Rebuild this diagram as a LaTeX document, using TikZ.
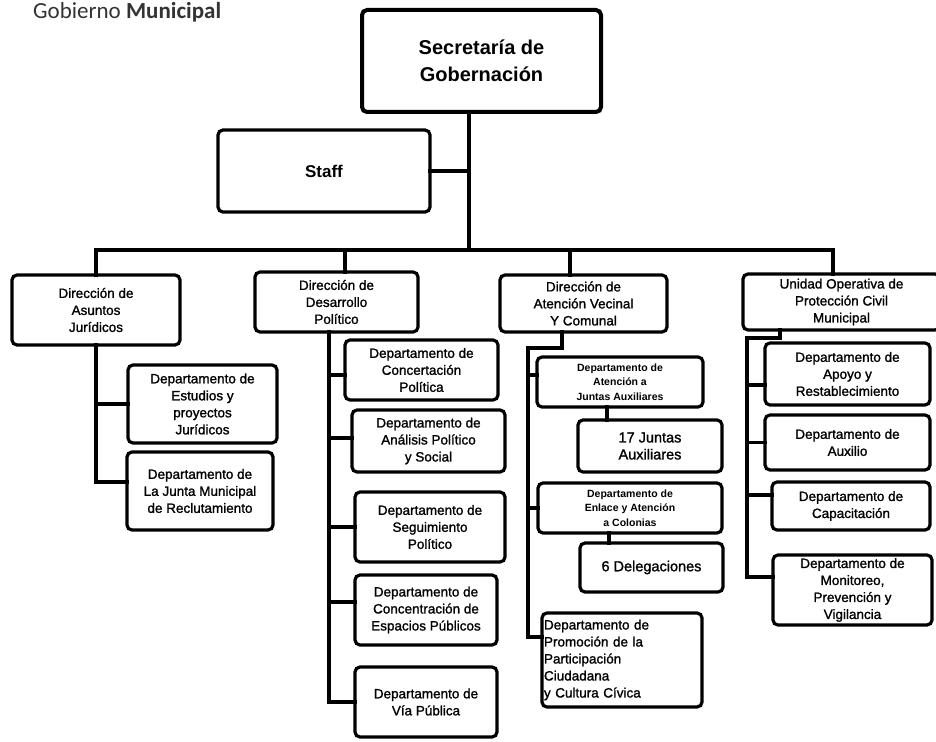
\documentclass[tikz,border=0pt]{standalone}
\usepackage{fontspec}
\setmainfont{Liberation Sans}
\newfontfamily\heavy[FakeBold=1.3]{Liberation Sans}
\newfontfamily\calib{Carlito}
\begin{document}
\begin{tikzpicture}[x=1pt,y=-1pt,
  box/.style={draw=black, line width=3.2pt, rounded corners=5pt, inner sep=1pt, outer sep=0pt,
    anchor=north west, align=center, fill=white, font=\heavy\fontsize{13.5}{17}\selectfont},
  bigbox/.style={box, line width=4pt, font=\bfseries\fontsize{20}{27}\selectfont},
  smallbold/.style={font=\bfseries\fontsize{10.5}{14.5}\selectfont},
  midtext/.style={font=\heavy\fontsize{14.5}{17}\selectfont},
  conn/.style={draw=black, line width=3.3pt, line cap=rect, line join=miter}]
\useasboundingbox (0,0) rectangle (936,741);
\fill[white] (0,0) rectangle (936,741);

\node[anchor=base west, inner sep=0, text=black!80, font=\calib\fontsize{23}{23}\selectfont] (gob) at (33,19) {Gobierno \textbf{Municipal}};

% top
\node[bigbox, minimum width=239pt, minimum height=102pt] (sec) at (362,10) {Secretaría de\\Gobernación};
\node[box, minimum width=212pt, minimum height=82pt, font=\bfseries\fontsize{17}{20}\selectfont] (staff) at (218,130) {Staff};

% level 2
\node[box, minimum width=168pt, minimum height=70pt] (asj) at (12,275) {Dirección de\\Asuntos\\Jurídicos};
\node[box, minimum width=163pt, minimum height=60pt] (dp) at (255,272) {Dirección de\\Desarrollo\\Político};
\node[box, minimum width=167pt, minimum height=57pt] (av) at (500,275) {Dirección de\\Atención Vecinal\\Y Comunal};
\node[box, minimum width=197pt, minimum height=56pt] (pc) at (743,274) {Unidad Operativa de\\Protección Civil\\Municipal};

% Juridicos
\node[box, minimum width=149pt, minimum height=78pt] (ej) at (128,365) {Departamento de\\Estudios y\\proyectos\\Jurídicos};
\node[box, minimum width=146pt, minimum height=78pt] (lj) at (127,452) {Departamento de\\La Junta Municipal\\de Reclutamiento};

% Desarrollo politico
\node[box, minimum width=153pt, minimum height=60pt] (c1) at (345,340) {Departamento de\\Concertación\\Política};
\node[box, minimum width=153pt, minimum height=62pt] (c2) at (352,410) {Departamento de\\Análisis Político\\y Social};
\node[box, minimum width=150pt, minimum height=70pt] (c3) at (355,492) {Departamento de\\Seguimiento\\Político};
\node[box, minimum width=142pt, minimum height=70pt] (c4) at (355,575) {Departamento de\\Concentración de\\Espacios Públicos};
\node[box, minimum width=142pt, minimum height=70pt] (c5) at (355,667) {Departamento de\\Vía Pública};

% Atencion vecinal
\node[box, smallbold, minimum width=166pt, minimum height=50pt] (a1) at (537,357) {Departamento de\\Atención a\\Juntas Auxiliares};
\node[box, midtext, minimum width=144pt, minimum height=52pt] (a1c) at (578,420) {17 Juntas\\Auxiliares};
\node[box, smallbold, minimum width=184pt, minimum height=50pt] (a2) at (538,483) {Departamento de\\Enlace y Atención\\a Colonias};
\node[box, midtext, minimum width=143pt, minimum height=49pt] (a2c) at (580,543) {6 Delegaciones};
\node[box, align=left, text width=156pt, inner sep=2pt, minimum height=94pt] (a3) at (542,613) {Departamento de\\Promoción de la\\Participación\\Ciudadana\\y Cultura Cívica};

% Proteccion civil
\node[box, minimum width=165pt, minimum height=62pt] (p1) at (765,343) {Departamento de\\Apoyo y\\Restablecimiento};
\node[box, minimum width=165pt, minimum height=55pt] (p2) at (765,415) {Departamento de\\Auxilio};
\node[box, minimum width=158pt, minimum height=48pt] (p3) at (772,482) {Departamento de\\Capacitación};
\node[box, minimum width=159pt, minimum height=70pt] (p4) at (773,555) {Departamento de\\Monitoreo,\\Prevención y\\Vigilancia};

% connection points
\coordinate (busy) at (0,250);
\coordinate (sect) at ([xshift=-12.5pt]sec.south);
\coordinate (dpn) at ([xshift=8.5pt]dp.north);
\coordinate (avn) at ([xshift=-13.5pt]av.north);
\coordinate (pcn) at ([xshift=-8.5pt]pc.north);

\draw[conn] (sect) -- (sect |- busy);
\draw[conn] (staff.east) -- (sect |- staff.east);
\draw[conn] (asj.north |- busy) -- (pcn |- busy);
\draw[conn] (asj.north) -- (asj.north |- busy);
\draw[conn] (dpn) -- (dpn |- busy);
\draw[conn] (avn) -- (avn |- busy);
\draw[conn] (pcn) -- (pcn |- busy);

% Juridicos
\coordinate (lje) at ([yshift=9pt]lj.west);
\draw[conn] (asj.south) |- (lje);
\draw[conn] (asj.south |- ej.west) -- (ej.west);

% Desarrollo
\coordinate (dpt) at ([xshift=-7.5pt]dp.south);
\coordinate (c1e) at ([yshift=-5pt]c1.west);
\coordinate (c2e) at ([yshift=3pt]c2.west);
\coordinate (c4e) at ([yshift=8pt]c4.west);
\draw[conn] (dpt) |- (c5.west);
\draw[conn] (dpt |- c1e) -- (c1e);
\draw[conn] (dpt |- c2e) -- (c2e);
\draw[conn] (dpt |- c3.west) -- (c3.west);
\draw[conn] (dpt |- c4e) -- (c4e);

% Atencion vecinal
\coordinate (avd) at ([xshift=-21.5pt]av.south);
\coordinate (avk) at ([yshift=-16pt]avd);
\coordinate (avt) at ([xshift=-34pt]avk);
\coordinate (a1e) at ([yshift=7pt]a1.west);
\coordinate (a3e) at ([yshift=23pt]a3.west);
\draw[conn] (avd) -- (avk) -- (avt) |- (a3e);
\draw[conn] (avt |- a1e) -- (a1e);
\draw[conn] (avt |- a2.west) -- (a2.west);
\coordinate (a1d) at ([xshift=-13pt]a1.south);
\draw[conn] (a1d) -- (a1d |- a1c.north);
\coordinate (a2d) at ([xshift=-21pt]a2.south);
\draw[conn] (a2d) -- (a2d |- a2c.north);

% Proteccion civil
\coordinate (pcd) at ([xshift=-61.5pt]pc.south);
\coordinate (pck) at ([yshift=-8pt]pcd);
\coordinate (pct) at ([xshift=-33pt]pck);
\coordinate (p1e) at ([yshift=-11pt]p1.west);
\coordinate (p3e) at ([yshift=11pt]p3.west);
\coordinate (p4e) at ([yshift=13pt]p4.west);
\draw[conn] (pcd) -- (pck) -- (pct) |- (p4e);
\draw[conn] (pct |- p1e) -- (p1e);
\draw[conn] (pct |- p2.west) -- (p2.west);
\draw[conn] (pct |- p3e) -- (p3e);
\end{tikzpicture}
\end{document}
